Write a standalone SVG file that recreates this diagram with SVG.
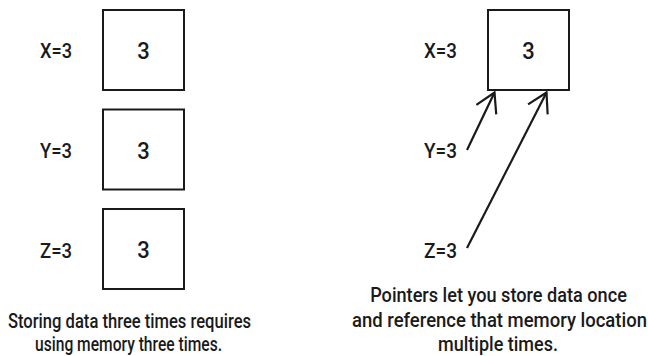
<svg xmlns="http://www.w3.org/2000/svg" width="648" height="356" viewBox="0 0 648 356">
  <style>
    .box { fill: #ffffff; stroke: #1a1a1a; stroke-width: 2; }
    .lbl { font-family: Roboto, "Liberation Sans", sans-serif; font-weight: 500; font-size: 21px; fill: #1a1a1a; }
    .val { font-family: Roboto, "Liberation Sans", sans-serif; font-weight: 500; font-size: 24px; fill: #1a1a1a; text-anchor: middle; }
    .cap { font-family: Roboto, "Liberation Sans", sans-serif; font-weight: 500; font-size: 20.5px; fill: #1a1a1a; text-anchor: middle; }
    .ptr { fill: none; stroke: #1a1a1a; stroke-width: 2.2; }
  </style>
  <defs>
    <marker id="ah" markerUnits="userSpaceOnUse" markerWidth="40" markerHeight="40" viewBox="-30 -20 40 40" refX="0" refY="0" orient="auto" overflow="visible">
      <path d="M-19,-11 L0,0 L-19,11" fill="none" stroke="#1a1a1a" stroke-width="2.2"/>
    </marker>
  </defs>
  <rect width="648" height="356" fill="#ffffff"/>

  <g id="left-x">
    <text class="lbl" x="40" y="58" textLength="32" lengthAdjust="spacingAndGlyphs">X=3</text>
    <rect class="box" x="103" y="10" width="81" height="80"/>
    <text class="val" x="143.5" y="59" textLength="12.5" lengthAdjust="spacingAndGlyphs">3</text>
  </g>
  <g id="left-y">
    <text class="lbl" x="40" y="158" textLength="32" lengthAdjust="spacingAndGlyphs">Y=3</text>
    <rect class="box" x="103" y="109.5" width="81" height="80"/>
    <text class="val" x="143.5" y="158.5" textLength="12.5" lengthAdjust="spacingAndGlyphs">3</text>
  </g>
  <g id="left-z">
    <text class="lbl" x="40" y="258" textLength="32" lengthAdjust="spacingAndGlyphs">Z=3</text>
    <rect class="box" x="103" y="209" width="81" height="80"/>
    <text class="val" x="143.5" y="258" textLength="12.5" lengthAdjust="spacingAndGlyphs">3</text>
  </g>
  <g id="left-caption">
    <text class="cap" transform="translate(129.5,327.5) scale(0.85,1)" x="0" y="0" textLength="286" lengthAdjust="spacingAndGlyphs">Storing data three times requires</text>
    <text class="cap" transform="translate(128.5,351) scale(0.85,1)" x="0" y="0" textLength="220" lengthAdjust="spacingAndGlyphs">using memory three times.</text>
  </g>

  <g id="right-x">
    <text class="lbl" x="424" y="58" textLength="33" lengthAdjust="spacingAndGlyphs">X=3</text>
    <rect class="box" x="488" y="10" width="81" height="80"/>
    <text class="val" x="528.5" y="59" textLength="12.5" lengthAdjust="spacingAndGlyphs">3</text>
  </g>
  <g id="right-y">
    <text class="lbl" x="424" y="158" textLength="33" lengthAdjust="spacingAndGlyphs">Y=3</text>
  </g>
  <g id="right-z">
    <text class="lbl" x="424" y="258" textLength="33" lengthAdjust="spacingAndGlyphs">Z=3</text>
  </g>
  <g id="right-caption">
    <text class="cap" transform="translate(498.5,302) scale(0.85,1)" x="0" y="0" textLength="302" lengthAdjust="spacingAndGlyphs">Pointers let you store data once</text>
    <text class="cap" transform="translate(499.5,327) scale(0.85,1)" x="0" y="0" textLength="347" lengthAdjust="spacingAndGlyphs">and reference that memory location</text>
    <text class="cap" transform="translate(498,351) scale(0.85,1)" x="0" y="0" textLength="141" lengthAdjust="spacingAndGlyphs">multiple times.</text>
  </g>

  <g id="connectors">
    <path class="ptr" d="M467,150 L494.5,92.5" marker-end="url(#ah)"/>
    <path class="ptr" d="M467,248 L546.5,92.5" marker-end="url(#ah)"/>
  </g>
</svg>
